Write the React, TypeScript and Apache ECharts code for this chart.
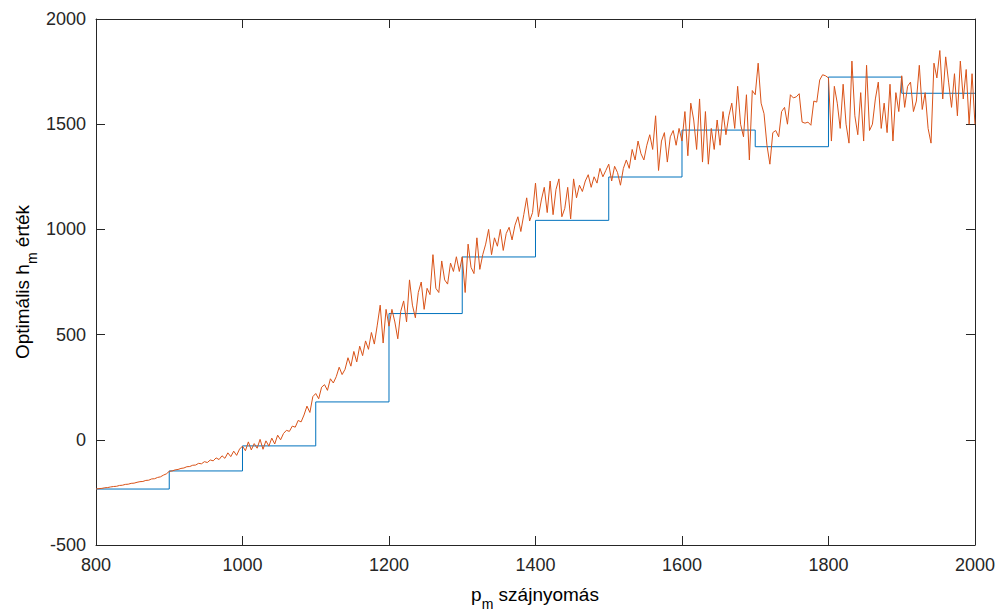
import React, { useEffect, useRef } from "react";
import * as echarts from "echarts";

// Blue stairs: optimal h_m per 100-unit pressure band (MATLAB stairs)
const stairX = [800, 900, 1000, 1100, 1200, 1300, 1400, 1500, 1600, 1700, 1800, 1900, 2000];
const stairY = [-234, -148, -29, 180, 600, 869, 1043, 1249, 1472, 1393, 1724, 1647, 1647];

// Orange line: optimal h_m sampled every 4 units of pressure from 800
const curveStartX = 800;
const curveStepX = 4;
const curveY = [
  -234, -232, -231, -228, -227, -224, -222, -221, -217, -216, -212, -211, -207, -206, -202, -199, -198, -193, -192, -186, -185, -179, -176, -168, -162,
  -150, -148, -143, -141, -136, -134, -128, -127, -121, -120, -112, -114, -104, -108, -96, -100, -86, -94, -76, -88, -62, -80, -54, -74, -44,
  -30, -52, -10, -48, -18, -40, 2, -45, -5, -30, 8, -20, 22, 0, 30, 45, 40, 65, 60, 92, 85, 118, 160, 130, 205,
  220, 195, 250, 262, 235, 290, 270, 300, 345, 310, 335, 390, 350, 420, 370, 445, 400, 470, 430, 510, 455, 545, 640, 460, 620,
  540, 620, 560, 480, 610, 660, 560, 760, 640, 580, 700, 750, 620, 720, 690, 880, 720, 700, 850, 760, 740, 840, 800, 870, 800,
  870, 700, 930, 820, 790, 960, 810, 880, 930, 1000, 880, 960, 920, 1000, 900, 980, 1010, 950, 1020, 1060, 990, 1070, 1150, 1040, 1080,
  1220, 1060, 1140, 1200, 1080, 1230, 1070, 1190, 1240, 1060, 1100, 1200, 1050, 1240, 1150, 1210, 1180, 1230, 1260, 1200, 1250, 1220, 1290, 1250, 1280,
  1310, 1230, 1300, 1270, 1210, 1290, 1330, 1290, 1380, 1330, 1420, 1360, 1330, 1400, 1450, 1380, 1540, 1280, 1420, 1460, 1320, 1440, 1470, 1400, 1480,
  1420, 1560, 1350, 1600, 1520, 1380, 1620, 1320, 1560, 1310, 1480, 1380, 1520, 1400, 1560, 1450, 1540, 1600, 1480, 1680, 1500, 1440, 1640, 1330, 1660,
  1640, 1790, 1600, 1550, 1400, 1310, 1460, 1470, 1440, 1560, 1580, 1500, 1640, 1625, 1630, 1645, 1510, 1505, 1510, 1495, 1610, 1605, 1710, 1735, 1730,
  1720, 1420, 1680, 1600, 1480, 1690, 1500, 1410, 1800, 1540, 1450, 1650, 1420, 1780, 1470, 1500, 1620, 1700, 1480, 1600, 1460, 1690, 1420, 1650, 1560,
  1730, 1580, 1680, 1700, 1560, 1610, 1780, 1570, 1650, 1480, 1410, 1790, 1720, 1850, 1620, 1820, 1700, 1580, 1740, 1540, 1800, 1620, 1760, 1500, 1740, 1500,
];

const xTitleMain = "p";
const xTitleSub = "m";
const xTitleRest = " szájnyomás";
const yTitleMain = "Optimális h";
const yTitleSub = "m";
const yTitleRest = " érték";

const FONT = "'Liberation Sans', Arial, Helvetica, sans-serif";
const AXIS_COLOR = "#262626";

export default function App() {
  const ref = useRef<HTMLDivElement>(null);
  useEffect(() => {
    if (!ref.current) return;
    const chart = echarts.init(ref.current, undefined, { renderer: "svg" });
    const stairData = stairX.map((x, i) => [x, stairY[i]]);
    const curveData = curveY.map((y, i) => [curveStartX + i * curveStepX, y]);

    const axisCommon = {
      type: "value" as const,
      axisLine: { show: true, onZero: false, lineStyle: { color: AXIS_COLOR, width: 1 } },
      axisTick: { show: true, inside: true, length: 9, lineStyle: { color: AXIS_COLOR, width: 1 } },
      splitLine: { show: false },
    };
    const plain = (v: number) => String(v);

    const titleRich = {
      a: { fontSize: 19, fontFamily: FONT, color: AXIS_COLOR, lineHeight: 22 },
      s: { fontSize: 14, fontFamily: FONT, color: AXIS_COLOR, lineHeight: 16, padding: [19, 0, 0, 0] },
    };

    chart.setOption({
      animation: false,
      backgroundColor: "#ffffff",
      grid: { left: 96, top: 19, right: 23, bottom: 64, containLabel: false },
      xAxis: [
        {
          ...axisCommon,
          position: "bottom",
          min: 800,
          max: 2000,
          interval: 200,
          axisLabel: { fontSize: 18, fontFamily: FONT, color: AXIS_COLOR, margin: 11, formatter: plain },
        },
        {
          ...axisCommon,
          position: "top",
          min: 800,
          max: 2000,
          interval: 200,
          axisLabel: { show: false },
        },
      ],
      yAxis: [
        {
          ...axisCommon,
          position: "left",
          min: -500,
          max: 2000,
          interval: 500,
          axisLabel: { fontSize: 18, fontFamily: FONT, color: AXIS_COLOR, margin: 10, formatter: plain },
        },
        {
          ...axisCommon,
          position: "right",
          min: -500,
          max: 2000,
          interval: 500,
          axisLabel: { show: false },
        },
      ],
      graphic: [
        {
          type: "text",
          x: 535,
          y: 594,
          style: {
            text: `{a|${xTitleMain}}{s|${xTitleSub}}{a|${xTitleRest}}`,
            rich: titleRich,
            textAlign: "center",
            textVerticalAlign: "middle",
          },
        },
        {
          type: "text",
          x: 22,
          y: 282,
          rotation: Math.PI / 2,
          style: {
            text: `{a|${yTitleMain}}{s|${yTitleSub}}{a|${yTitleRest}}`,
            rich: titleRich,
            textAlign: "center",
            textVerticalAlign: "middle",
          },
        },
      ],
      series: [
        {
          type: "line",
          step: "end",
          data: stairData,
          showSymbol: false,
          silent: true,
          lineStyle: { color: "#0072BD", width: 1 },
          itemStyle: { color: "#0072BD" },
        },
        {
          type: "line",
          data: curveData,
          showSymbol: false,
          silent: true,
          lineStyle: { color: "#D95319", width: 1 },
          itemStyle: { color: "#D95319" },
        },
      ],
    });
    return () => chart.dispose();
  }, []);
  return <div ref={ref} style={{ width: 998, height: 609, position: "absolute", left: 0, top: 0 }} />;
}
